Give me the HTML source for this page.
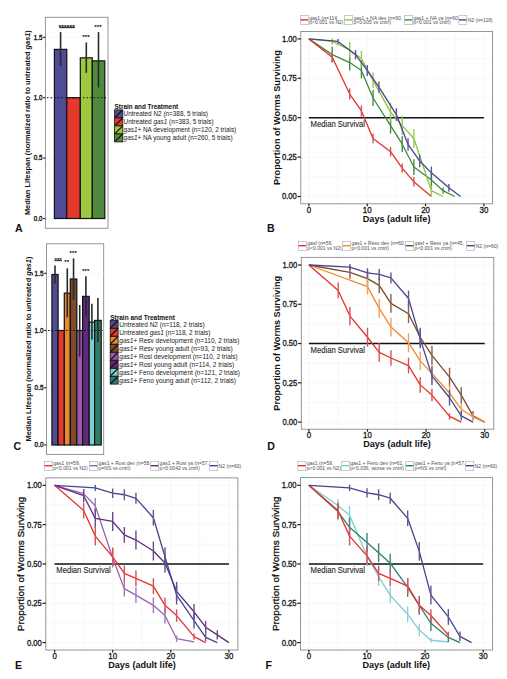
<!DOCTYPE html>
<html><head><meta charset="utf-8"><style>
html,body{margin:0;padding:0;background:#fff;}
body{width:507px;height:679px;overflow:hidden;}
svg{display:block;font-family:"Liberation Sans", sans-serif;}
</style></head><body>
<svg width="507" height="679" viewBox="0 0 507 679">
<rect width="507" height="679" fill="#fff"/>
<rect x="45.40" y="17.30" width="62.60" height="211.00" fill="#fff" stroke="#8a8a8a" stroke-width="0.9"/>
<line x1="45.40" y1="218.50" x2="108.00" y2="218.50" stroke="#f5f5f5" stroke-width="0.8"/>
<line x1="45.40" y1="158.10" x2="108.00" y2="158.10" stroke="#f5f5f5" stroke-width="0.8"/>
<line x1="45.40" y1="97.70" x2="108.00" y2="97.70" stroke="#f5f5f5" stroke-width="0.8"/>
<line x1="45.40" y1="37.30" x2="108.00" y2="37.30" stroke="#f5f5f5" stroke-width="0.8"/>
<rect x="54.40" y="49.38" width="12.40" height="169.12" fill="#4f4b95" stroke="#111" stroke-width="1.2"/>
<rect x="66.80" y="97.70" width="13.50" height="120.80" fill="#e33a2d" stroke="#111" stroke-width="1.2"/>
<rect x="80.30" y="57.84" width="12.00" height="160.66" fill="#9dc83f" stroke="#111" stroke-width="1.2"/>
<rect x="92.30" y="60.86" width="12.50" height="157.64" fill="#4f8a3e" stroke="#111" stroke-width="1.2"/>
<line x1="46.90" y1="97.70" x2="107.00" y2="97.70" stroke="#111" stroke-width="1.1" stroke-dasharray="1.6 2.0"/>
<line x1="60.60" y1="32.10" x2="60.60" y2="65.90" stroke="#2a2a2a" stroke-width="1.6"/>
<line x1="86.30" y1="42.50" x2="86.30" y2="72.80" stroke="#2a2a2a" stroke-width="1.6"/>
<line x1="98.50" y1="32.10" x2="98.50" y2="87.50" stroke="#2a2a2a" stroke-width="1.6"/>
<text x="67.00" y="29.30" font-size="5.5" text-anchor="middle" fill="#333" letter-spacing="0.6" stroke="#333" stroke-width="0.25">******</text>
<text x="86.20" y="38.50" font-size="5" text-anchor="middle" fill="#333" letter-spacing="0.6" stroke="#333" stroke-width="0.25">***</text>
<text x="98.30" y="28.50" font-size="5" text-anchor="middle" fill="#333" letter-spacing="0.6" stroke="#333" stroke-width="0.25">***</text>
<line x1="43.20" y1="218.50" x2="45.40" y2="218.50" stroke="#1a1a1a" stroke-width="1.2"/>
<text transform="translate(42.40 220.73) scale(1 1.1)" font-size="6.2" text-anchor="end" fill="#1a1a1a" stroke="#1a1a1a" stroke-width="0.35">0.0</text>
<line x1="43.20" y1="158.10" x2="45.40" y2="158.10" stroke="#1a1a1a" stroke-width="1.2"/>
<text transform="translate(42.40 160.33) scale(1 1.1)" font-size="6.2" text-anchor="end" fill="#1a1a1a" stroke="#1a1a1a" stroke-width="0.35">0.5</text>
<line x1="43.20" y1="97.70" x2="45.40" y2="97.70" stroke="#1a1a1a" stroke-width="1.2"/>
<text transform="translate(42.40 99.93) scale(1 1.1)" font-size="6.2" text-anchor="end" fill="#1a1a1a" stroke="#1a1a1a" stroke-width="0.35">1.0</text>
<line x1="43.20" y1="37.30" x2="45.40" y2="37.30" stroke="#1a1a1a" stroke-width="1.2"/>
<text transform="translate(42.40 39.53) scale(1 1.1)" font-size="6.2" text-anchor="end" fill="#1a1a1a" stroke="#1a1a1a" stroke-width="0.35">1.5</text>
<text x="30.10" y="122.60" font-size="7.36" font-weight="bold" text-anchor="middle" fill="#111" transform="rotate(-90 30.10 122.60)">Median Lifespan (normalized ratio to untreated <tspan font-style="italic">gas1</tspan>)</text>
<text x="114.60" y="108.90" font-size="6.4" text-anchor="start" fill="#111" font-weight="bold">Strain and Treatment</text>
<rect x="114.60" y="109.90" width="8.20" height="8.00" fill="#4f4b95" stroke="#111" stroke-width="0.8"/>
<line x1="115.20" y1="117.30" x2="122.20" y2="110.50" stroke="#111" stroke-width="1.1"/>
<text x="123.60" y="116.20" font-size="6.4" fill="#222">Untreated N2 (n=388, 5 trials)</text>
<rect x="114.60" y="117.90" width="8.20" height="8.00" fill="#e33a2d" stroke="#111" stroke-width="0.8"/>
<line x1="115.20" y1="125.30" x2="122.20" y2="118.50" stroke="#111" stroke-width="1.1"/>
<text x="123.60" y="124.20" font-size="6.4" fill="#222">Untreated <tspan font-style="italic">gas1</tspan>  (n=383, 5 trials)</text>
<rect x="114.60" y="125.90" width="8.20" height="8.00" fill="#9dc83f" stroke="#111" stroke-width="0.8"/>
<line x1="115.20" y1="133.30" x2="122.20" y2="126.50" stroke="#111" stroke-width="1.1"/>
<text x="123.60" y="132.20" font-size="6.4" fill="#222"><tspan font-style="italic">gas1</tspan>+ NA development (n=120, 2 trials)</text>
<rect x="114.60" y="133.90" width="8.20" height="8.00" fill="#4f8a3e" stroke="#111" stroke-width="0.8"/>
<line x1="115.20" y1="141.30" x2="122.20" y2="134.50" stroke="#111" stroke-width="1.1"/>
<text x="123.60" y="140.20" font-size="6.4" fill="#222"><tspan font-style="italic">gas1</tspan>+ NA young adult (n=260, 5 trials)</text>
<text x="14.90" y="232.40" font-size="10.6" text-anchor="start" fill="#111" font-weight="bold">A</text>
<line x1="59.20" y1="27.40" x2="74.80" y2="27.40" stroke="#333" stroke-width="1.5"/>
<rect x="46.50" y="243.80" width="57.20" height="210.60" fill="#fff" stroke="#8a8a8a" stroke-width="0.9"/>
<line x1="46.50" y1="445.00" x2="103.70" y2="445.00" stroke="#f5f5f5" stroke-width="0.8"/>
<line x1="46.50" y1="387.75" x2="103.70" y2="387.75" stroke="#f5f5f5" stroke-width="0.8"/>
<line x1="46.50" y1="330.50" x2="103.70" y2="330.50" stroke="#f5f5f5" stroke-width="0.8"/>
<line x1="46.50" y1="273.25" x2="103.70" y2="273.25" stroke="#f5f5f5" stroke-width="0.8"/>
<rect x="51.90" y="274.51" width="6.20" height="170.49" fill="#4f4b95" stroke="#111" stroke-width="1.2"/>
<rect x="58.10" y="330.50" width="6.20" height="114.50" fill="#e33a2d" stroke="#111" stroke-width="1.2"/>
<rect x="64.30" y="293.17" width="6.00" height="151.83" fill="#ea8a2e" stroke="#111" stroke-width="1.2"/>
<rect x="70.30" y="278.98" width="6.50" height="166.02" fill="#7d4a2a" stroke="#111" stroke-width="1.2"/>
<rect x="76.80" y="330.50" width="5.80" height="114.50" fill="#9a5aa8" stroke="#111" stroke-width="1.2"/>
<rect x="82.60" y="296.38" width="6.60" height="148.62" fill="#5e2a7e" stroke="#111" stroke-width="1.2"/>
<rect x="89.20" y="322.14" width="5.40" height="122.86" fill="#7ecdd0" stroke="#111" stroke-width="1.2"/>
<rect x="94.60" y="320.42" width="6.60" height="124.58" fill="#2d7d6b" stroke="#111" stroke-width="1.2"/>
<line x1="48.00" y1="330.50" x2="102.70" y2="330.50" stroke="#111" stroke-width="1.1" stroke-dasharray="1.6 2.0"/>
<line x1="55.00" y1="265.50" x2="55.00" y2="283.50" stroke="#2a2a2a" stroke-width="1.6"/>
<line x1="67.30" y1="268.30" x2="67.30" y2="317.30" stroke="#2a2a2a" stroke-width="1.6"/>
<line x1="73.55" y1="258.40" x2="73.55" y2="299.60" stroke="#2a2a2a" stroke-width="1.6"/>
<line x1="79.70" y1="305.00" x2="79.70" y2="356.60" stroke="#2a2a2a" stroke-width="1.6"/>
<line x1="85.90" y1="276.20" x2="85.90" y2="316.60" stroke="#2a2a2a" stroke-width="1.6"/>
<line x1="91.90" y1="303.80" x2="91.90" y2="339.40" stroke="#2a2a2a" stroke-width="1.6"/>
<line x1="97.90" y1="298.00" x2="97.90" y2="342.10" stroke="#2a2a2a" stroke-width="1.6"/>
<text x="58.40" y="261.80" font-size="4.8" text-anchor="middle" fill="#333" letter-spacing="0.6" stroke="#333" stroke-width="0.25">***</text>
<text x="67.00" y="264.00" font-size="4.8" text-anchor="middle" fill="#333" letter-spacing="0.6" stroke="#333" stroke-width="0.25">**</text>
<text x="73.50" y="254.50" font-size="4.8" text-anchor="middle" fill="#333" letter-spacing="0.6" stroke="#333" stroke-width="0.25">***</text>
<text x="86.00" y="273.00" font-size="4.8" text-anchor="middle" fill="#333" letter-spacing="0.6" stroke="#333" stroke-width="0.25">***</text>
<line x1="44.30" y1="445.00" x2="46.50" y2="445.00" stroke="#1a1a1a" stroke-width="1.2"/>
<text transform="translate(43.50 447.30) scale(1 1.1)" font-size="6.4" text-anchor="end" fill="#1a1a1a" stroke="#1a1a1a" stroke-width="0.35">0.0</text>
<line x1="44.30" y1="387.75" x2="46.50" y2="387.75" stroke="#1a1a1a" stroke-width="1.2"/>
<text transform="translate(43.50 390.05) scale(1 1.1)" font-size="6.4" text-anchor="end" fill="#1a1a1a" stroke="#1a1a1a" stroke-width="0.35">0.5</text>
<line x1="44.30" y1="330.50" x2="46.50" y2="330.50" stroke="#1a1a1a" stroke-width="1.2"/>
<text transform="translate(43.50 332.80) scale(1 1.1)" font-size="6.4" text-anchor="end" fill="#1a1a1a" stroke="#1a1a1a" stroke-width="0.35">1.0</text>
<line x1="44.30" y1="273.25" x2="46.50" y2="273.25" stroke="#1a1a1a" stroke-width="1.2"/>
<text transform="translate(43.50 275.55) scale(1 1.1)" font-size="6.4" text-anchor="end" fill="#1a1a1a" stroke="#1a1a1a" stroke-width="0.35">1.5</text>
<text x="30.60" y="349.00" font-size="7.37" font-weight="bold" text-anchor="middle" fill="#111" transform="rotate(-90 30.60 349.00)">Median Lifespan (normalized ratio to untreated <tspan font-style="italic">gas1</tspan>)</text>
<text x="110.20" y="319.50" font-size="6.5" text-anchor="start" fill="#111" font-weight="bold">Strain and Treatment</text>
<rect x="110.20" y="320.40" width="7.90" height="7.70" fill="#4f4b95" stroke="#111" stroke-width="0.8"/>
<line x1="110.80" y1="327.50" x2="117.50" y2="321.00" stroke="#111" stroke-width="1.1"/>
<text x="119.30" y="326.59" font-size="6.5" fill="#222">Untreated N2 (n=118, 2 trials)</text>
<rect x="110.20" y="328.40" width="7.90" height="7.70" fill="#e33a2d" stroke="#111" stroke-width="0.8"/>
<line x1="110.80" y1="335.50" x2="117.50" y2="329.00" stroke="#111" stroke-width="1.1"/>
<text x="119.30" y="334.59" font-size="6.5" fill="#222">Untreated <tspan font-style="italic">gas1</tspan> (n=118, 2 trials)</text>
<rect x="110.20" y="336.40" width="7.90" height="7.70" fill="#ea8a2e" stroke="#111" stroke-width="0.8"/>
<line x1="110.80" y1="343.50" x2="117.50" y2="337.00" stroke="#111" stroke-width="1.1"/>
<text x="119.30" y="342.59" font-size="6.5" fill="#222"><tspan font-style="italic">gas1</tspan>+ Resv development (n=110, 2 trials)</text>
<rect x="110.20" y="344.40" width="7.90" height="7.70" fill="#7d4a2a" stroke="#111" stroke-width="0.8"/>
<line x1="110.80" y1="351.50" x2="117.50" y2="345.00" stroke="#111" stroke-width="1.1"/>
<text x="119.30" y="350.59" font-size="6.5" fill="#222"><tspan font-style="italic">gas1</tspan>+ Resv young adult (n=93, 2 trials)</text>
<rect x="110.20" y="352.40" width="7.90" height="7.70" fill="#9a5aa8" stroke="#111" stroke-width="0.8"/>
<line x1="110.80" y1="359.50" x2="117.50" y2="353.00" stroke="#111" stroke-width="1.1"/>
<text x="119.30" y="358.59" font-size="6.5" fill="#222"><tspan font-style="italic">gas1</tspan>+ Rosi development (n=110, 2 trials)</text>
<rect x="110.20" y="360.40" width="7.90" height="7.70" fill="#5e2a7e" stroke="#111" stroke-width="0.8"/>
<line x1="110.80" y1="367.50" x2="117.50" y2="361.00" stroke="#111" stroke-width="1.1"/>
<text x="119.30" y="366.59" font-size="6.5" fill="#222"><tspan font-style="italic">gas1</tspan>+ Rosi young adult (n=114, 2 trials)</text>
<rect x="110.20" y="368.40" width="7.90" height="7.70" fill="#7ecdd0" stroke="#111" stroke-width="0.8"/>
<line x1="110.80" y1="375.50" x2="117.50" y2="369.00" stroke="#111" stroke-width="1.1"/>
<text x="119.30" y="374.59" font-size="6.5" fill="#222"><tspan font-style="italic">gas1</tspan>+ Feno development (n=121, 2 trials)</text>
<rect x="110.20" y="376.40" width="7.90" height="7.70" fill="#2d7d6b" stroke="#111" stroke-width="0.8"/>
<line x1="110.80" y1="383.50" x2="117.50" y2="377.00" stroke="#111" stroke-width="1.1"/>
<text x="119.30" y="382.59" font-size="6.5" fill="#222"><tspan font-style="italic">gas1</tspan>+ Feno young adult (n=112, 2 trials)</text>
<text x="13.60" y="449.50" font-size="10.6" text-anchor="start" fill="#111" font-weight="bold">C</text>
<line x1="54.40" y1="260.60" x2="62.00" y2="260.60" stroke="#333" stroke-width="1.1"/>
<rect x="300.80" y="31.50" width="191.70" height="172.30" fill="#fff" stroke="none" stroke-width="1"/>
<line x1="308.90" y1="31.50" x2="308.90" y2="203.80" stroke="#f5f5f5" stroke-width="0.8"/>
<line x1="338.06" y1="31.50" x2="338.06" y2="203.80" stroke="#f5f5f5" stroke-width="0.8"/>
<line x1="367.23" y1="31.50" x2="367.23" y2="203.80" stroke="#f5f5f5" stroke-width="0.8"/>
<line x1="396.39" y1="31.50" x2="396.39" y2="203.80" stroke="#f5f5f5" stroke-width="0.8"/>
<line x1="425.56" y1="31.50" x2="425.56" y2="203.80" stroke="#f5f5f5" stroke-width="0.8"/>
<line x1="454.73" y1="31.50" x2="454.73" y2="203.80" stroke="#f5f5f5" stroke-width="0.8"/>
<line x1="483.89" y1="31.50" x2="483.89" y2="203.80" stroke="#f5f5f5" stroke-width="0.8"/>
<line x1="300.80" y1="196.50" x2="492.50" y2="196.50" stroke="#f5f5f5" stroke-width="0.8"/>
<line x1="300.80" y1="176.80" x2="492.50" y2="176.80" stroke="#f5f5f5" stroke-width="0.8"/>
<line x1="300.80" y1="157.10" x2="492.50" y2="157.10" stroke="#f5f5f5" stroke-width="0.8"/>
<line x1="300.80" y1="137.40" x2="492.50" y2="137.40" stroke="#f5f5f5" stroke-width="0.8"/>
<line x1="300.80" y1="117.70" x2="492.50" y2="117.70" stroke="#f5f5f5" stroke-width="0.8"/>
<line x1="300.80" y1="98.00" x2="492.50" y2="98.00" stroke="#f5f5f5" stroke-width="0.8"/>
<line x1="300.80" y1="78.30" x2="492.50" y2="78.30" stroke="#f5f5f5" stroke-width="0.8"/>
<line x1="300.80" y1="58.60" x2="492.50" y2="58.60" stroke="#f5f5f5" stroke-width="0.8"/>
<line x1="300.80" y1="38.90" x2="492.50" y2="38.90" stroke="#f5f5f5" stroke-width="0.8"/>
<rect x="300.80" y="31.50" width="191.70" height="172.30" fill="none" stroke="#8a8a8a" stroke-width="0.9"/>
<line x1="308.90" y1="117.70" x2="483.89" y2="117.70" stroke="#111" stroke-width="1.4"/>
<text transform="translate(310.60 127.20) scale(1 1.12)" font-size="7.65" text-anchor="start" fill="#2a2a2a" stroke="#2a2a2a" stroke-width="0.12">Median Survival</text>
<polyline points="308.90,38.90 332.23,54.66 349.73,62.54 361.40,70.42 373.06,98.00 390.56,125.58 402.23,144.18 413.89,167.03 431.39,179.95 443.06,190.67 454.73,196.50" fill="none" stroke="#3e8a3a" stroke-width="1.3" stroke-linejoin="round"/>
<line x1="332.23" y1="46.78" x2="332.23" y2="62.54" stroke="#4a8a48" stroke-width="1.4"/>
<line x1="349.73" y1="54.66" x2="349.73" y2="70.42" stroke="#4a8a48" stroke-width="1.4"/>
<line x1="361.40" y1="62.54" x2="361.40" y2="78.30" stroke="#4a8a48" stroke-width="1.4"/>
<line x1="373.06" y1="90.12" x2="373.06" y2="105.88" stroke="#4a8a48" stroke-width="1.4"/>
<line x1="390.56" y1="117.70" x2="390.56" y2="133.46" stroke="#4a8a48" stroke-width="1.4"/>
<line x1="402.23" y1="136.30" x2="402.23" y2="152.06" stroke="#4a8a48" stroke-width="1.4"/>
<line x1="413.89" y1="159.15" x2="413.89" y2="174.91" stroke="#4a8a48" stroke-width="1.4"/>
<line x1="431.39" y1="172.07" x2="431.39" y2="187.83" stroke="#4a8a48" stroke-width="1.4"/>
<line x1="443.06" y1="187.52" x2="443.06" y2="193.82" stroke="#4a8a48" stroke-width="1.4"/>
<polyline points="308.90,38.90 332.23,41.42 349.73,49.93 361.40,58.60 373.06,80.35 390.56,112.18 402.23,125.58 413.89,138.50 431.39,190.67 443.06,196.50" fill="none" stroke="#8cc43c" stroke-width="1.3" stroke-linejoin="round"/>
<line x1="332.23" y1="38.27" x2="332.23" y2="44.57" stroke="#9ac85a" stroke-width="1.4"/>
<line x1="349.73" y1="42.05" x2="349.73" y2="57.81" stroke="#9ac85a" stroke-width="1.4"/>
<line x1="361.40" y1="50.72" x2="361.40" y2="66.48" stroke="#9ac85a" stroke-width="1.4"/>
<line x1="373.06" y1="72.47" x2="373.06" y2="88.23" stroke="#9ac85a" stroke-width="1.4"/>
<line x1="390.56" y1="102.73" x2="390.56" y2="121.64" stroke="#9ac85a" stroke-width="1.4"/>
<line x1="402.23" y1="116.12" x2="402.23" y2="135.04" stroke="#9ac85a" stroke-width="1.4"/>
<line x1="413.89" y1="129.05" x2="413.89" y2="147.96" stroke="#9ac85a" stroke-width="1.4"/>
<line x1="431.39" y1="185.94" x2="431.39" y2="195.40" stroke="#9ac85a" stroke-width="1.4"/>
<polyline points="308.90,38.90 332.23,57.18 349.73,94.06 361.40,110.92 373.06,138.50 390.56,151.74 402.23,168.13 413.89,181.84 431.39,196.50" fill="none" stroke="#e3332b" stroke-width="1.3" stroke-linejoin="round"/>
<line x1="332.23" y1="52.45" x2="332.23" y2="61.91" stroke="#d8505a" stroke-width="1.4"/>
<line x1="349.73" y1="88.54" x2="349.73" y2="99.58" stroke="#d8505a" stroke-width="1.4"/>
<line x1="361.40" y1="105.41" x2="361.40" y2="116.44" stroke="#d8505a" stroke-width="1.4"/>
<line x1="373.06" y1="133.78" x2="373.06" y2="143.23" stroke="#d8505a" stroke-width="1.4"/>
<line x1="390.56" y1="147.01" x2="390.56" y2="156.47" stroke="#d8505a" stroke-width="1.4"/>
<line x1="402.23" y1="163.40" x2="402.23" y2="172.86" stroke="#d8505a" stroke-width="1.4"/>
<line x1="413.89" y1="177.12" x2="413.89" y2="186.57" stroke="#d8505a" stroke-width="1.4"/>
<polyline points="308.90,38.90 338.06,41.42 355.56,54.66 367.23,70.42 378.90,87.13 396.39,114.55 408.06,144.49 419.73,161.04 431.39,172.86 448.89,187.83 460.56,196.50" fill="none" stroke="#45458f" stroke-width="1.3" stroke-linejoin="round"/>
<line x1="338.06" y1="39.06" x2="338.06" y2="43.79" stroke="#5a5a95" stroke-width="1.4"/>
<line x1="355.56" y1="49.93" x2="355.56" y2="59.39" stroke="#5a5a95" stroke-width="1.4"/>
<line x1="367.23" y1="64.90" x2="367.23" y2="75.94" stroke="#5a5a95" stroke-width="1.4"/>
<line x1="378.90" y1="81.61" x2="378.90" y2="92.64" stroke="#5a5a95" stroke-width="1.4"/>
<line x1="396.39" y1="108.24" x2="396.39" y2="120.85" stroke="#5a5a95" stroke-width="1.4"/>
<line x1="408.06" y1="138.19" x2="408.06" y2="150.80" stroke="#5a5a95" stroke-width="1.4"/>
<line x1="419.73" y1="154.74" x2="419.73" y2="167.34" stroke="#5a5a95" stroke-width="1.4"/>
<line x1="431.39" y1="166.56" x2="431.39" y2="179.16" stroke="#5a5a95" stroke-width="1.4"/>
<line x1="448.89" y1="183.89" x2="448.89" y2="191.77" stroke="#5a5a95" stroke-width="1.4"/>
<line x1="297.60" y1="196.50" x2="300.80" y2="196.50" stroke="#1a1a1a" stroke-width="1.2"/>
<text transform="translate(296.80 199.40) scale(1 1.2)" font-size="7.65" text-anchor="end" fill="#1a1a1a" stroke="#1a1a1a" stroke-width="0.3">0.00</text>
<line x1="297.60" y1="157.10" x2="300.80" y2="157.10" stroke="#1a1a1a" stroke-width="1.2"/>
<text transform="translate(296.80 160.00) scale(1 1.2)" font-size="7.65" text-anchor="end" fill="#1a1a1a" stroke="#1a1a1a" stroke-width="0.3">0.25</text>
<line x1="297.60" y1="117.70" x2="300.80" y2="117.70" stroke="#1a1a1a" stroke-width="1.2"/>
<text transform="translate(296.80 120.60) scale(1 1.2)" font-size="7.65" text-anchor="end" fill="#1a1a1a" stroke="#1a1a1a" stroke-width="0.3">0.50</text>
<line x1="297.60" y1="78.30" x2="300.80" y2="78.30" stroke="#1a1a1a" stroke-width="1.2"/>
<text transform="translate(296.80 81.20) scale(1 1.2)" font-size="7.65" text-anchor="end" fill="#1a1a1a" stroke="#1a1a1a" stroke-width="0.3">0.75</text>
<line x1="297.60" y1="38.90" x2="300.80" y2="38.90" stroke="#1a1a1a" stroke-width="1.2"/>
<text transform="translate(296.80 41.80) scale(1 1.2)" font-size="7.65" text-anchor="end" fill="#1a1a1a" stroke="#1a1a1a" stroke-width="0.3">1.00</text>
<line x1="308.90" y1="203.80" x2="308.90" y2="206.30" stroke="#1a1a1a" stroke-width="1.2"/>
<text transform="translate(308.90 213.00) scale(1 1.15)" font-size="7.9" text-anchor="middle" fill="#1a1a1a" stroke="#1a1a1a" stroke-width="0.3">0</text>
<line x1="367.23" y1="203.80" x2="367.23" y2="206.30" stroke="#1a1a1a" stroke-width="1.2"/>
<text transform="translate(367.23 213.00) scale(1 1.15)" font-size="7.9" text-anchor="middle" fill="#1a1a1a" stroke="#1a1a1a" stroke-width="0.3">10</text>
<line x1="425.56" y1="203.80" x2="425.56" y2="206.30" stroke="#1a1a1a" stroke-width="1.2"/>
<text transform="translate(425.56 213.00) scale(1 1.15)" font-size="7.9" text-anchor="middle" fill="#1a1a1a" stroke="#1a1a1a" stroke-width="0.3">20</text>
<line x1="483.89" y1="203.80" x2="483.89" y2="206.30" stroke="#1a1a1a" stroke-width="1.2"/>
<text transform="translate(483.89 213.00) scale(1 1.15)" font-size="7.9" text-anchor="middle" fill="#1a1a1a" stroke="#1a1a1a" stroke-width="0.3">30</text>
<text transform="translate(396.59 221.80) scale(1 1.07)" font-size="9.1" text-anchor="middle" fill="#111" font-weight="bold">Days (adult life)</text>
<text x="280.30" y="117.65" font-size="9.1" font-weight="bold" text-anchor="middle" fill="#111" transform="rotate(-90 280.30 117.65)">Proportion of Worms Surviving</text>
<rect x="300.30" y="15.50" width="8.00" height="9.00" fill="#fff" stroke="#a8a8a8" stroke-width="0.6"/>
<line x1="300.50" y1="19.90" x2="308.10" y2="19.90" stroke="#e3332b" stroke-width="1.4"/>
<text x="309.20" y="19.50" font-size="5.05" text-anchor="start" fill="#505050">gas1 (n=114,</text>
<text x="309.20" y="24.40" font-size="5.05" text-anchor="start" fill="#505050">p&lt;0.001 vs N2)</text>
<rect x="344.50" y="15.50" width="8.00" height="9.00" fill="#fff" stroke="#a8a8a8" stroke-width="0.6"/>
<line x1="344.70" y1="19.90" x2="352.30" y2="19.90" stroke="#8cc43c" stroke-width="1.4"/>
<text x="353.40" y="19.50" font-size="5.05" text-anchor="start" fill="#505050">gas1 + NA dev (n=60,</text>
<text x="353.40" y="24.40" font-size="5.05" text-anchor="start" fill="#505050">p&lt;0.005 vs cntrl)</text>
<rect x="404.30" y="15.50" width="8.00" height="9.00" fill="#fff" stroke="#a8a8a8" stroke-width="0.6"/>
<line x1="404.50" y1="19.90" x2="412.10" y2="19.90" stroke="#3e8a3a" stroke-width="1.4"/>
<text x="413.20" y="19.50" font-size="5.05" text-anchor="start" fill="#505050">gas1 + NA ya (n=60,</text>
<text x="413.20" y="24.40" font-size="5.05" text-anchor="start" fill="#505050">p&lt;0.001 vs cntrl)</text>
<rect x="458.80" y="15.50" width="8.00" height="9.00" fill="#fff" stroke="#a8a8a8" stroke-width="0.6"/>
<line x1="459.00" y1="19.90" x2="466.60" y2="19.90" stroke="#45458f" stroke-width="1.4"/>
<text x="467.70" y="21.80" font-size="5.05" text-anchor="start" fill="#505050">N2 (n=118)</text>
<text x="266.90" y="232.30" font-size="10.6" text-anchor="start" fill="#111" font-weight="bold">B</text>
<rect x="301.30" y="257.40" width="192.50" height="171.80" fill="#fff" stroke="none" stroke-width="1"/>
<line x1="308.90" y1="257.40" x2="308.90" y2="429.20" stroke="#f5f5f5" stroke-width="0.8"/>
<line x1="338.20" y1="257.40" x2="338.20" y2="429.20" stroke="#f5f5f5" stroke-width="0.8"/>
<line x1="367.50" y1="257.40" x2="367.50" y2="429.20" stroke="#f5f5f5" stroke-width="0.8"/>
<line x1="396.80" y1="257.40" x2="396.80" y2="429.20" stroke="#f5f5f5" stroke-width="0.8"/>
<line x1="426.10" y1="257.40" x2="426.10" y2="429.20" stroke="#f5f5f5" stroke-width="0.8"/>
<line x1="455.40" y1="257.40" x2="455.40" y2="429.20" stroke="#f5f5f5" stroke-width="0.8"/>
<line x1="484.70" y1="257.40" x2="484.70" y2="429.20" stroke="#f5f5f5" stroke-width="0.8"/>
<line x1="301.30" y1="422.10" x2="493.80" y2="422.10" stroke="#f5f5f5" stroke-width="0.8"/>
<line x1="301.30" y1="402.46" x2="493.80" y2="402.46" stroke="#f5f5f5" stroke-width="0.8"/>
<line x1="301.30" y1="382.83" x2="493.80" y2="382.83" stroke="#f5f5f5" stroke-width="0.8"/>
<line x1="301.30" y1="363.19" x2="493.80" y2="363.19" stroke="#f5f5f5" stroke-width="0.8"/>
<line x1="301.30" y1="343.55" x2="493.80" y2="343.55" stroke="#f5f5f5" stroke-width="0.8"/>
<line x1="301.30" y1="323.91" x2="493.80" y2="323.91" stroke="#f5f5f5" stroke-width="0.8"/>
<line x1="301.30" y1="304.28" x2="493.80" y2="304.28" stroke="#f5f5f5" stroke-width="0.8"/>
<line x1="301.30" y1="284.64" x2="493.80" y2="284.64" stroke="#f5f5f5" stroke-width="0.8"/>
<line x1="301.30" y1="265.00" x2="493.80" y2="265.00" stroke="#f5f5f5" stroke-width="0.8"/>
<rect x="301.30" y="257.40" width="192.50" height="171.80" fill="none" stroke="#8a8a8a" stroke-width="0.9"/>
<line x1="308.90" y1="343.55" x2="484.70" y2="343.55" stroke="#111" stroke-width="1.4"/>
<text transform="translate(310.60 353.05) scale(1 1.12)" font-size="7.65" text-anchor="start" fill="#2a2a2a" stroke="#2a2a2a" stroke-width="0.12">Median Survival</text>
<polyline points="308.90,265.00 349.92,272.38 367.50,278.67 379.22,285.42 390.94,303.33 408.52,313.70 420.24,337.27 431.96,355.33 449.54,377.17 461.26,395.08 472.98,415.82 484.70,422.10" fill="none" stroke="#7a4a2c" stroke-width="1.3" stroke-linejoin="round"/>
<line x1="349.92" y1="266.10" x2="349.92" y2="278.67" stroke="#86604a" stroke-width="1.4"/>
<line x1="367.50" y1="270.81" x2="367.50" y2="286.52" stroke="#86604a" stroke-width="1.4"/>
<line x1="379.22" y1="277.57" x2="379.22" y2="293.28" stroke="#86604a" stroke-width="1.4"/>
<line x1="390.94" y1="293.91" x2="390.94" y2="312.76" stroke="#86604a" stroke-width="1.4"/>
<line x1="408.52" y1="304.28" x2="408.52" y2="323.13" stroke="#86604a" stroke-width="1.4"/>
<line x1="420.24" y1="327.84" x2="420.24" y2="346.69" stroke="#86604a" stroke-width="1.4"/>
<line x1="431.96" y1="345.91" x2="431.96" y2="364.76" stroke="#86604a" stroke-width="1.4"/>
<line x1="449.54" y1="367.74" x2="449.54" y2="386.60" stroke="#86604a" stroke-width="1.4"/>
<line x1="461.26" y1="387.22" x2="461.26" y2="402.93" stroke="#86604a" stroke-width="1.4"/>
<line x1="472.98" y1="411.10" x2="472.98" y2="420.53" stroke="#86604a" stroke-width="1.4"/>
<polyline points="308.90,265.00 367.50,286.68 379.22,308.36 390.94,327.05 408.52,342.76 420.24,360.83 431.96,373.40 449.54,393.04 461.26,409.22 472.98,416.92 484.70,422.10" fill="none" stroke="#ee8a2c" stroke-width="1.3" stroke-linejoin="round"/>
<line x1="367.50" y1="278.82" x2="367.50" y2="294.53" stroke="#f0a060" stroke-width="1.4"/>
<line x1="379.22" y1="298.93" x2="379.22" y2="317.79" stroke="#f0a060" stroke-width="1.4"/>
<line x1="390.94" y1="317.63" x2="390.94" y2="336.48" stroke="#f0a060" stroke-width="1.4"/>
<line x1="408.52" y1="333.34" x2="408.52" y2="352.19" stroke="#f0a060" stroke-width="1.4"/>
<line x1="420.24" y1="351.41" x2="420.24" y2="370.26" stroke="#f0a060" stroke-width="1.4"/>
<line x1="431.96" y1="363.97" x2="431.96" y2="382.83" stroke="#f0a060" stroke-width="1.4"/>
<line x1="449.54" y1="385.18" x2="449.54" y2="400.89" stroke="#f0a060" stroke-width="1.4"/>
<line x1="461.26" y1="402.93" x2="461.26" y2="415.50" stroke="#f0a060" stroke-width="1.4"/>
<line x1="472.98" y1="413.77" x2="472.98" y2="420.06" stroke="#f0a060" stroke-width="1.4"/>
<polyline points="308.90,265.00 338.20,290.45 349.92,316.06 367.50,337.27 379.22,352.35 390.94,358.00 408.52,365.54 420.24,384.87 431.96,395.08 449.54,416.44 461.26,422.10" fill="none" stroke="#e3332b" stroke-width="1.3" stroke-linejoin="round"/>
<line x1="338.20" y1="282.60" x2="338.20" y2="298.31" stroke="#d8505a" stroke-width="1.4"/>
<line x1="349.92" y1="306.63" x2="349.92" y2="325.48" stroke="#d8505a" stroke-width="1.4"/>
<line x1="367.50" y1="327.84" x2="367.50" y2="346.69" stroke="#d8505a" stroke-width="1.4"/>
<line x1="379.22" y1="342.92" x2="379.22" y2="361.77" stroke="#d8505a" stroke-width="1.4"/>
<line x1="390.94" y1="350.15" x2="390.94" y2="365.86" stroke="#d8505a" stroke-width="1.4"/>
<line x1="408.52" y1="357.69" x2="408.52" y2="373.40" stroke="#d8505a" stroke-width="1.4"/>
<line x1="420.24" y1="377.01" x2="420.24" y2="392.72" stroke="#d8505a" stroke-width="1.4"/>
<line x1="431.96" y1="388.79" x2="431.96" y2="401.36" stroke="#d8505a" stroke-width="1.4"/>
<line x1="449.54" y1="413.30" x2="449.54" y2="419.59" stroke="#d8505a" stroke-width="1.4"/>
<polyline points="308.90,265.00 349.92,267.20 367.50,272.86 379.22,274.43 390.94,277.88 408.52,298.46 420.24,338.84 431.96,375.91 449.54,397.75 461.26,415.82 472.98,422.10" fill="none" stroke="#45458f" stroke-width="1.3" stroke-linejoin="round"/>
<line x1="349.92" y1="264.06" x2="349.92" y2="270.34" stroke="#5a5a95" stroke-width="1.4"/>
<line x1="367.50" y1="268.14" x2="367.50" y2="277.57" stroke="#5a5a95" stroke-width="1.4"/>
<line x1="379.22" y1="268.93" x2="379.22" y2="279.92" stroke="#5a5a95" stroke-width="1.4"/>
<line x1="390.94" y1="272.38" x2="390.94" y2="283.38" stroke="#5a5a95" stroke-width="1.4"/>
<line x1="408.52" y1="290.61" x2="408.52" y2="306.32" stroke="#5a5a95" stroke-width="1.4"/>
<line x1="420.24" y1="329.41" x2="420.24" y2="348.26" stroke="#5a5a95" stroke-width="1.4"/>
<line x1="431.96" y1="366.49" x2="431.96" y2="385.34" stroke="#5a5a95" stroke-width="1.4"/>
<line x1="449.54" y1="389.89" x2="449.54" y2="405.60" stroke="#5a5a95" stroke-width="1.4"/>
<line x1="461.26" y1="411.10" x2="461.26" y2="420.53" stroke="#5a5a95" stroke-width="1.4"/>
<line x1="298.10" y1="422.10" x2="301.30" y2="422.10" stroke="#1a1a1a" stroke-width="1.2"/>
<text transform="translate(297.30 425.00) scale(1 1.2)" font-size="7.65" text-anchor="end" fill="#1a1a1a" stroke="#1a1a1a" stroke-width="0.3">0.00</text>
<line x1="298.10" y1="382.83" x2="301.30" y2="382.83" stroke="#1a1a1a" stroke-width="1.2"/>
<text transform="translate(297.30 385.73) scale(1 1.2)" font-size="7.65" text-anchor="end" fill="#1a1a1a" stroke="#1a1a1a" stroke-width="0.3">0.25</text>
<line x1="298.10" y1="343.55" x2="301.30" y2="343.55" stroke="#1a1a1a" stroke-width="1.2"/>
<text transform="translate(297.30 346.45) scale(1 1.2)" font-size="7.65" text-anchor="end" fill="#1a1a1a" stroke="#1a1a1a" stroke-width="0.3">0.50</text>
<line x1="298.10" y1="304.28" x2="301.30" y2="304.28" stroke="#1a1a1a" stroke-width="1.2"/>
<text transform="translate(297.30 307.18) scale(1 1.2)" font-size="7.65" text-anchor="end" fill="#1a1a1a" stroke="#1a1a1a" stroke-width="0.3">0.75</text>
<line x1="298.10" y1="265.00" x2="301.30" y2="265.00" stroke="#1a1a1a" stroke-width="1.2"/>
<text transform="translate(297.30 267.90) scale(1 1.2)" font-size="7.65" text-anchor="end" fill="#1a1a1a" stroke="#1a1a1a" stroke-width="0.3">1.00</text>
<line x1="308.90" y1="429.20" x2="308.90" y2="431.70" stroke="#1a1a1a" stroke-width="1.2"/>
<text transform="translate(308.90 438.40) scale(1 1.15)" font-size="7.9" text-anchor="middle" fill="#1a1a1a" stroke="#1a1a1a" stroke-width="0.3">0</text>
<line x1="367.50" y1="429.20" x2="367.50" y2="431.70" stroke="#1a1a1a" stroke-width="1.2"/>
<text transform="translate(367.50 438.40) scale(1 1.15)" font-size="7.9" text-anchor="middle" fill="#1a1a1a" stroke="#1a1a1a" stroke-width="0.3">10</text>
<line x1="426.10" y1="429.20" x2="426.10" y2="431.70" stroke="#1a1a1a" stroke-width="1.2"/>
<text transform="translate(426.10 438.40) scale(1 1.15)" font-size="7.9" text-anchor="middle" fill="#1a1a1a" stroke="#1a1a1a" stroke-width="0.3">20</text>
<line x1="484.70" y1="429.20" x2="484.70" y2="431.70" stroke="#1a1a1a" stroke-width="1.2"/>
<text transform="translate(484.70 438.40) scale(1 1.15)" font-size="7.9" text-anchor="middle" fill="#1a1a1a" stroke="#1a1a1a" stroke-width="0.3">30</text>
<text transform="translate(397.00 447.20) scale(1 1.07)" font-size="9.1" text-anchor="middle" fill="#111" font-weight="bold">Days (adult life)</text>
<text x="280.40" y="343.30" font-size="9.1" font-weight="bold" text-anchor="middle" fill="#111" transform="rotate(-90 280.40 343.30)">Proportion of Worms Surviving</text>
<rect x="298.40" y="241.30" width="8.00" height="9.00" fill="#fff" stroke="#a8a8a8" stroke-width="0.6"/>
<line x1="298.60" y1="245.70" x2="306.20" y2="245.70" stroke="#e3332b" stroke-width="1.4"/>
<text x="307.30" y="245.30" font-size="5.05" text-anchor="start" fill="#505050">gasf (n=59,</text>
<text x="307.30" y="250.20" font-size="5.05" text-anchor="start" fill="#505050">p&lt;0.001 vs N2)</text>
<rect x="342.50" y="241.30" width="8.00" height="9.00" fill="#fff" stroke="#a8a8a8" stroke-width="0.6"/>
<line x1="342.70" y1="245.70" x2="350.30" y2="245.70" stroke="#ee8a2c" stroke-width="1.4"/>
<text x="351.40" y="245.30" font-size="5.05" text-anchor="start" fill="#505050">gas1 + Resv dev (n=60,</text>
<text x="351.40" y="250.20" font-size="5.05" text-anchor="start" fill="#505050">p&lt;0.001 vs cntrl)</text>
<rect x="405.70" y="241.30" width="8.00" height="9.00" fill="#fff" stroke="#a8a8a8" stroke-width="0.6"/>
<line x1="405.90" y1="245.70" x2="413.50" y2="245.70" stroke="#7a4a2c" stroke-width="1.4"/>
<text x="414.60" y="245.30" font-size="5.05" text-anchor="start" fill="#505050">gasf + Resv ya (n=45,</text>
<text x="414.60" y="250.20" font-size="5.05" text-anchor="start" fill="#505050">p&lt;0.001 vs cntrl)</text>
<rect x="466.70" y="241.30" width="8.00" height="9.00" fill="#fff" stroke="#a8a8a8" stroke-width="0.6"/>
<line x1="466.90" y1="245.70" x2="474.50" y2="245.70" stroke="#45458f" stroke-width="1.4"/>
<text x="475.60" y="247.60" font-size="5.05" text-anchor="start" fill="#505050">N2 (n=60)</text>
<text x="267.20" y="450.00" font-size="10.6" text-anchor="start" fill="#111" font-weight="bold">D</text>
<rect x="45.80" y="477.90" width="192.10" height="172.10" fill="#fff" stroke="none" stroke-width="1"/>
<line x1="54.60" y1="477.90" x2="54.60" y2="650.00" stroke="#f5f5f5" stroke-width="0.8"/>
<line x1="83.65" y1="477.90" x2="83.65" y2="650.00" stroke="#f5f5f5" stroke-width="0.8"/>
<line x1="112.70" y1="477.90" x2="112.70" y2="650.00" stroke="#f5f5f5" stroke-width="0.8"/>
<line x1="141.75" y1="477.90" x2="141.75" y2="650.00" stroke="#f5f5f5" stroke-width="0.8"/>
<line x1="170.80" y1="477.90" x2="170.80" y2="650.00" stroke="#f5f5f5" stroke-width="0.8"/>
<line x1="199.85" y1="477.90" x2="199.85" y2="650.00" stroke="#f5f5f5" stroke-width="0.8"/>
<line x1="228.90" y1="477.90" x2="228.90" y2="650.00" stroke="#f5f5f5" stroke-width="0.8"/>
<line x1="45.80" y1="642.60" x2="237.90" y2="642.60" stroke="#f5f5f5" stroke-width="0.8"/>
<line x1="45.80" y1="622.94" x2="237.90" y2="622.94" stroke="#f5f5f5" stroke-width="0.8"/>
<line x1="45.80" y1="603.27" x2="237.90" y2="603.27" stroke="#f5f5f5" stroke-width="0.8"/>
<line x1="45.80" y1="583.61" x2="237.90" y2="583.61" stroke="#f5f5f5" stroke-width="0.8"/>
<line x1="45.80" y1="563.95" x2="237.90" y2="563.95" stroke="#f5f5f5" stroke-width="0.8"/>
<line x1="45.80" y1="544.29" x2="237.90" y2="544.29" stroke="#f5f5f5" stroke-width="0.8"/>
<line x1="45.80" y1="524.62" x2="237.90" y2="524.62" stroke="#f5f5f5" stroke-width="0.8"/>
<line x1="45.80" y1="504.96" x2="237.90" y2="504.96" stroke="#f5f5f5" stroke-width="0.8"/>
<line x1="45.80" y1="485.30" x2="237.90" y2="485.30" stroke="#f5f5f5" stroke-width="0.8"/>
<rect x="45.80" y="477.90" width="192.10" height="172.10" fill="none" stroke="#8a8a8a" stroke-width="0.9"/>
<line x1="54.60" y1="563.95" x2="228.90" y2="563.95" stroke="#111" stroke-width="1.4"/>
<text transform="translate(56.30 573.45) scale(1 1.12)" font-size="7.65" text-anchor="start" fill="#2a2a2a" stroke="#2a2a2a" stroke-width="0.12">Median Survival</text>
<polyline points="54.60,485.30 83.65,493.64 95.27,505.75 112.70,557.97 124.32,588.65 135.94,595.10 153.37,605.32 164.99,615.54 176.61,638.67 194.04,641.97" fill="none" stroke="#9a62b0" stroke-width="1.3" stroke-linejoin="round"/>
<line x1="83.65" y1="488.92" x2="83.65" y2="498.36" stroke="#a27ab8" stroke-width="1.4"/>
<line x1="95.27" y1="497.88" x2="95.27" y2="513.61" stroke="#a27ab8" stroke-width="1.4"/>
<line x1="112.70" y1="548.53" x2="112.70" y2="567.41" stroke="#a27ab8" stroke-width="1.4"/>
<line x1="124.32" y1="580.78" x2="124.32" y2="596.51" stroke="#a27ab8" stroke-width="1.4"/>
<line x1="135.94" y1="587.23" x2="135.94" y2="602.96" stroke="#a27ab8" stroke-width="1.4"/>
<line x1="153.37" y1="597.45" x2="153.37" y2="613.18" stroke="#a27ab8" stroke-width="1.4"/>
<line x1="164.99" y1="607.68" x2="164.99" y2="623.41" stroke="#a27ab8" stroke-width="1.4"/>
<line x1="176.61" y1="635.52" x2="176.61" y2="641.81" stroke="#a27ab8" stroke-width="1.4"/>
<polyline points="54.60,485.30 83.65,495.68 95.27,518.33 112.70,521.48 124.32,534.85 135.94,540.04 153.37,551.05 164.99,563.01 176.61,591.32 194.04,611.77 205.66,627.18 217.28,634.89 228.90,642.60" fill="none" stroke="#5c2c80" stroke-width="1.3" stroke-linejoin="round"/>
<line x1="83.65" y1="489.39" x2="83.65" y2="501.97" stroke="#6a4a8a" stroke-width="1.4"/>
<line x1="95.27" y1="508.89" x2="95.27" y2="527.77" stroke="#6a4a8a" stroke-width="1.4"/>
<line x1="112.70" y1="512.04" x2="112.70" y2="530.92" stroke="#6a4a8a" stroke-width="1.4"/>
<line x1="124.32" y1="526.98" x2="124.32" y2="542.71" stroke="#6a4a8a" stroke-width="1.4"/>
<line x1="135.94" y1="530.60" x2="135.94" y2="549.48" stroke="#6a4a8a" stroke-width="1.4"/>
<line x1="153.37" y1="541.61" x2="153.37" y2="560.49" stroke="#6a4a8a" stroke-width="1.4"/>
<line x1="164.99" y1="553.57" x2="164.99" y2="572.44" stroke="#6a4a8a" stroke-width="1.4"/>
<line x1="176.61" y1="581.88" x2="176.61" y2="600.76" stroke="#6a4a8a" stroke-width="1.4"/>
<line x1="194.04" y1="603.90" x2="194.04" y2="619.63" stroke="#6a4a8a" stroke-width="1.4"/>
<line x1="205.66" y1="620.89" x2="205.66" y2="633.48" stroke="#6a4a8a" stroke-width="1.4"/>
<line x1="217.28" y1="630.17" x2="217.28" y2="639.61" stroke="#6a4a8a" stroke-width="1.4"/>
<polyline points="54.60,485.30 83.65,510.47 95.27,536.11 112.70,556.87 124.32,573.39 135.94,578.42 153.37,586.13 164.99,605.32 176.61,615.54 194.04,636.62 205.66,642.60" fill="none" stroke="#e3332b" stroke-width="1.3" stroke-linejoin="round"/>
<line x1="83.65" y1="502.60" x2="83.65" y2="518.33" stroke="#d8505a" stroke-width="1.4"/>
<line x1="95.27" y1="526.67" x2="95.27" y2="545.55" stroke="#d8505a" stroke-width="1.4"/>
<line x1="112.70" y1="547.43" x2="112.70" y2="566.31" stroke="#d8505a" stroke-width="1.4"/>
<line x1="124.32" y1="565.52" x2="124.32" y2="581.25" stroke="#d8505a" stroke-width="1.4"/>
<line x1="135.94" y1="570.56" x2="135.94" y2="586.29" stroke="#d8505a" stroke-width="1.4"/>
<line x1="153.37" y1="578.26" x2="153.37" y2="593.99" stroke="#d8505a" stroke-width="1.4"/>
<line x1="164.99" y1="597.45" x2="164.99" y2="613.18" stroke="#d8505a" stroke-width="1.4"/>
<line x1="176.61" y1="609.25" x2="176.61" y2="621.84" stroke="#d8505a" stroke-width="1.4"/>
<line x1="194.04" y1="633.48" x2="194.04" y2="639.77" stroke="#d8505a" stroke-width="1.4"/>
<polyline points="54.60,485.30 95.27,487.82 112.70,493.17 124.32,494.74 135.94,498.36 153.37,517.70 164.99,556.71 176.61,595.10 194.04,620.74 205.66,637.41 217.28,642.60" fill="none" stroke="#45458f" stroke-width="1.3" stroke-linejoin="round"/>
<line x1="95.27" y1="484.67" x2="95.27" y2="490.96" stroke="#5a5a95" stroke-width="1.4"/>
<line x1="112.70" y1="488.45" x2="112.70" y2="497.88" stroke="#5a5a95" stroke-width="1.4"/>
<line x1="124.32" y1="489.23" x2="124.32" y2="500.24" stroke="#5a5a95" stroke-width="1.4"/>
<line x1="135.94" y1="492.85" x2="135.94" y2="503.86" stroke="#5a5a95" stroke-width="1.4"/>
<line x1="153.37" y1="509.84" x2="153.37" y2="525.57" stroke="#5a5a95" stroke-width="1.4"/>
<line x1="164.99" y1="547.28" x2="164.99" y2="566.15" stroke="#5a5a95" stroke-width="1.4"/>
<line x1="176.61" y1="585.66" x2="176.61" y2="604.53" stroke="#5a5a95" stroke-width="1.4"/>
<line x1="194.04" y1="612.87" x2="194.04" y2="628.60" stroke="#5a5a95" stroke-width="1.4"/>
<line x1="205.66" y1="633.48" x2="205.66" y2="641.34" stroke="#5a5a95" stroke-width="1.4"/>
<line x1="42.60" y1="642.60" x2="45.80" y2="642.60" stroke="#1a1a1a" stroke-width="1.2"/>
<text transform="translate(41.80 645.50) scale(1 1.2)" font-size="7.65" text-anchor="end" fill="#1a1a1a" stroke="#1a1a1a" stroke-width="0.3">0.00</text>
<line x1="42.60" y1="603.27" x2="45.80" y2="603.27" stroke="#1a1a1a" stroke-width="1.2"/>
<text transform="translate(41.80 606.17) scale(1 1.2)" font-size="7.65" text-anchor="end" fill="#1a1a1a" stroke="#1a1a1a" stroke-width="0.3">0.25</text>
<line x1="42.60" y1="563.95" x2="45.80" y2="563.95" stroke="#1a1a1a" stroke-width="1.2"/>
<text transform="translate(41.80 566.85) scale(1 1.2)" font-size="7.65" text-anchor="end" fill="#1a1a1a" stroke="#1a1a1a" stroke-width="0.3">0.50</text>
<line x1="42.60" y1="524.62" x2="45.80" y2="524.62" stroke="#1a1a1a" stroke-width="1.2"/>
<text transform="translate(41.80 527.52) scale(1 1.2)" font-size="7.65" text-anchor="end" fill="#1a1a1a" stroke="#1a1a1a" stroke-width="0.3">0.75</text>
<line x1="42.60" y1="485.30" x2="45.80" y2="485.30" stroke="#1a1a1a" stroke-width="1.2"/>
<text transform="translate(41.80 488.20) scale(1 1.2)" font-size="7.65" text-anchor="end" fill="#1a1a1a" stroke="#1a1a1a" stroke-width="0.3">1.00</text>
<line x1="54.60" y1="650.00" x2="54.60" y2="652.50" stroke="#1a1a1a" stroke-width="1.2"/>
<text transform="translate(54.60 659.20) scale(1 1.15)" font-size="7.9" text-anchor="middle" fill="#1a1a1a" stroke="#1a1a1a" stroke-width="0.3">0</text>
<line x1="112.70" y1="650.00" x2="112.70" y2="652.50" stroke="#1a1a1a" stroke-width="1.2"/>
<text transform="translate(112.70 659.20) scale(1 1.15)" font-size="7.9" text-anchor="middle" fill="#1a1a1a" stroke="#1a1a1a" stroke-width="0.3">10</text>
<line x1="170.80" y1="650.00" x2="170.80" y2="652.50" stroke="#1a1a1a" stroke-width="1.2"/>
<text transform="translate(170.80 659.20) scale(1 1.15)" font-size="7.9" text-anchor="middle" fill="#1a1a1a" stroke="#1a1a1a" stroke-width="0.3">20</text>
<line x1="228.90" y1="650.00" x2="228.90" y2="652.50" stroke="#1a1a1a" stroke-width="1.2"/>
<text transform="translate(228.90 659.20) scale(1 1.15)" font-size="7.9" text-anchor="middle" fill="#1a1a1a" stroke="#1a1a1a" stroke-width="0.3">30</text>
<text transform="translate(141.95 668.00) scale(1 1.07)" font-size="9.1" text-anchor="middle" fill="#111" font-weight="bold">Days (adult life)</text>
<text x="24.50" y="563.95" font-size="9.95" stroke="#111" stroke-width="0.3" text-anchor="middle" fill="#111" transform="rotate(-90 24.50 563.95)">Proportion of Worms Surviving</text>
<rect x="44.40" y="461.30" width="8.00" height="9.00" fill="#fff" stroke="#a8a8a8" stroke-width="0.6"/>
<line x1="44.60" y1="465.70" x2="52.20" y2="465.70" stroke="#e3332b" stroke-width="1.4"/>
<text x="53.30" y="465.30" font-size="5.05" text-anchor="start" fill="#505050">gas1 (n=59,</text>
<text x="53.30" y="470.20" font-size="5.05" text-anchor="start" fill="#505050">p&lt;0.001 vs N2)</text>
<rect x="89.60" y="461.30" width="8.00" height="9.00" fill="#fff" stroke="#a8a8a8" stroke-width="0.6"/>
<line x1="89.80" y1="465.70" x2="97.40" y2="465.70" stroke="#9a62b0" stroke-width="1.4"/>
<text x="98.50" y="465.30" font-size="5.05" text-anchor="start" fill="#505050">gas1 + Rosi dev (n=58,</text>
<text x="98.50" y="470.20" font-size="5.05" text-anchor="start" fill="#505050">p=NS vs cntrl)</text>
<rect x="150.70" y="461.30" width="8.00" height="9.00" fill="#fff" stroke="#a8a8a8" stroke-width="0.6"/>
<line x1="150.90" y1="465.70" x2="158.50" y2="465.70" stroke="#5c2c80" stroke-width="1.4"/>
<text x="159.60" y="465.30" font-size="5.05" text-anchor="start" fill="#505050">gas1 + Rosi ya (n=57,</text>
<text x="159.60" y="470.20" font-size="5.05" text-anchor="start" fill="#505050">p&lt;0.0042 vs cntrl)</text>
<rect x="209.70" y="461.30" width="8.00" height="9.00" fill="#fff" stroke="#a8a8a8" stroke-width="0.6"/>
<line x1="209.90" y1="465.70" x2="217.50" y2="465.70" stroke="#45458f" stroke-width="1.4"/>
<text x="218.60" y="467.60" font-size="5.05" text-anchor="start" fill="#505050">N2 (n=60)</text>
<text x="15.10" y="668.90" font-size="10.6" text-anchor="start" fill="#111" font-weight="bold">E</text>
<rect x="300.50" y="477.60" width="192.10" height="172.40" fill="#fff" stroke="none" stroke-width="1"/>
<line x1="308.90" y1="477.60" x2="308.90" y2="650.00" stroke="#f5f5f5" stroke-width="0.8"/>
<line x1="337.95" y1="477.60" x2="337.95" y2="650.00" stroke="#f5f5f5" stroke-width="0.8"/>
<line x1="367.00" y1="477.60" x2="367.00" y2="650.00" stroke="#f5f5f5" stroke-width="0.8"/>
<line x1="396.05" y1="477.60" x2="396.05" y2="650.00" stroke="#f5f5f5" stroke-width="0.8"/>
<line x1="425.10" y1="477.60" x2="425.10" y2="650.00" stroke="#f5f5f5" stroke-width="0.8"/>
<line x1="454.15" y1="477.60" x2="454.15" y2="650.00" stroke="#f5f5f5" stroke-width="0.8"/>
<line x1="483.20" y1="477.60" x2="483.20" y2="650.00" stroke="#f5f5f5" stroke-width="0.8"/>
<line x1="300.50" y1="642.60" x2="492.60" y2="642.60" stroke="#f5f5f5" stroke-width="0.8"/>
<line x1="300.50" y1="622.94" x2="492.60" y2="622.94" stroke="#f5f5f5" stroke-width="0.8"/>
<line x1="300.50" y1="603.27" x2="492.60" y2="603.27" stroke="#f5f5f5" stroke-width="0.8"/>
<line x1="300.50" y1="583.61" x2="492.60" y2="583.61" stroke="#f5f5f5" stroke-width="0.8"/>
<line x1="300.50" y1="563.95" x2="492.60" y2="563.95" stroke="#f5f5f5" stroke-width="0.8"/>
<line x1="300.50" y1="544.29" x2="492.60" y2="544.29" stroke="#f5f5f5" stroke-width="0.8"/>
<line x1="300.50" y1="524.62" x2="492.60" y2="524.62" stroke="#f5f5f5" stroke-width="0.8"/>
<line x1="300.50" y1="504.96" x2="492.60" y2="504.96" stroke="#f5f5f5" stroke-width="0.8"/>
<line x1="300.50" y1="485.30" x2="492.60" y2="485.30" stroke="#f5f5f5" stroke-width="0.8"/>
<rect x="300.50" y="477.60" width="192.10" height="172.40" fill="none" stroke="#8a8a8a" stroke-width="0.9"/>
<line x1="308.90" y1="563.95" x2="483.20" y2="563.95" stroke="#111" stroke-width="1.4"/>
<text transform="translate(310.60 573.45) scale(1 1.12)" font-size="7.65" text-anchor="start" fill="#2a2a2a" stroke="#2a2a2a" stroke-width="0.12">Median Survival</text>
<polyline points="308.90,485.30 337.95,505.59 349.57,515.34 367.00,556.09 378.62,576.53 390.24,595.41 407.67,614.29 419.29,630.02 430.91,640.24 448.34,641.97" fill="none" stroke="#7ecdd2" stroke-width="1.3" stroke-linejoin="round"/>
<line x1="337.95" y1="499.30" x2="337.95" y2="511.88" stroke="#8fd0d4" stroke-width="1.4"/>
<line x1="349.57" y1="505.91" x2="349.57" y2="524.78" stroke="#8fd0d4" stroke-width="1.4"/>
<line x1="367.00" y1="546.65" x2="367.00" y2="565.52" stroke="#8fd0d4" stroke-width="1.4"/>
<line x1="378.62" y1="567.10" x2="378.62" y2="585.97" stroke="#8fd0d4" stroke-width="1.4"/>
<line x1="390.24" y1="587.55" x2="390.24" y2="603.27" stroke="#8fd0d4" stroke-width="1.4"/>
<line x1="407.67" y1="606.42" x2="407.67" y2="622.15" stroke="#8fd0d4" stroke-width="1.4"/>
<line x1="419.29" y1="623.72" x2="419.29" y2="636.31" stroke="#8fd0d4" stroke-width="1.4"/>
<line x1="430.91" y1="637.88" x2="430.91" y2="642.60" stroke="#8fd0d4" stroke-width="1.4"/>
<polyline points="308.90,485.30 337.95,511.57 349.57,527.30 367.00,542.56 378.62,552.78 390.24,563.16 407.67,587.39 419.29,605.32 430.91,623.25 448.34,637.41 459.96,642.60" fill="none" stroke="#2d7d6b" stroke-width="1.3" stroke-linejoin="round"/>
<line x1="337.95" y1="503.70" x2="337.95" y2="519.43" stroke="#3a8577" stroke-width="1.4"/>
<line x1="349.57" y1="517.86" x2="349.57" y2="536.74" stroke="#3a8577" stroke-width="1.4"/>
<line x1="367.00" y1="533.12" x2="367.00" y2="552.00" stroke="#3a8577" stroke-width="1.4"/>
<line x1="378.62" y1="543.34" x2="378.62" y2="562.22" stroke="#3a8577" stroke-width="1.4"/>
<line x1="390.24" y1="553.73" x2="390.24" y2="572.60" stroke="#3a8577" stroke-width="1.4"/>
<line x1="407.67" y1="577.95" x2="407.67" y2="596.83" stroke="#3a8577" stroke-width="1.4"/>
<line x1="419.29" y1="595.88" x2="419.29" y2="614.76" stroke="#3a8577" stroke-width="1.4"/>
<line x1="430.91" y1="615.39" x2="430.91" y2="631.12" stroke="#3a8577" stroke-width="1.4"/>
<line x1="448.34" y1="632.69" x2="448.34" y2="642.13" stroke="#3a8577" stroke-width="1.4"/>
<polyline points="308.90,485.30 337.95,510.47 349.57,536.11 367.00,555.93 378.62,573.39 390.24,578.42 407.67,586.13 419.29,605.32 430.91,615.54 448.34,634.89" fill="none" stroke="#e3332b" stroke-width="1.3" stroke-linejoin="round"/>
<line x1="337.95" y1="502.60" x2="337.95" y2="518.33" stroke="#d8505a" stroke-width="1.4"/>
<line x1="349.57" y1="526.67" x2="349.57" y2="545.55" stroke="#d8505a" stroke-width="1.4"/>
<line x1="367.00" y1="546.49" x2="367.00" y2="565.37" stroke="#d8505a" stroke-width="1.4"/>
<line x1="378.62" y1="565.52" x2="378.62" y2="581.25" stroke="#d8505a" stroke-width="1.4"/>
<line x1="390.24" y1="570.56" x2="390.24" y2="586.29" stroke="#d8505a" stroke-width="1.4"/>
<line x1="407.67" y1="578.26" x2="407.67" y2="593.99" stroke="#d8505a" stroke-width="1.4"/>
<line x1="419.29" y1="597.45" x2="419.29" y2="613.18" stroke="#d8505a" stroke-width="1.4"/>
<line x1="430.91" y1="609.25" x2="430.91" y2="621.84" stroke="#d8505a" stroke-width="1.4"/>
<line x1="448.34" y1="631.75" x2="448.34" y2="638.04" stroke="#d8505a" stroke-width="1.4"/>
<polyline points="308.90,485.30 349.57,487.82 367.00,492.85 378.62,494.74 390.24,498.20 407.67,518.33 419.29,551.37 430.91,595.10 448.34,616.96 459.96,636.31 471.58,642.60" fill="none" stroke="#45458f" stroke-width="1.3" stroke-linejoin="round"/>
<line x1="349.57" y1="484.67" x2="349.57" y2="490.96" stroke="#5a5a95" stroke-width="1.4"/>
<line x1="367.00" y1="488.13" x2="367.00" y2="497.57" stroke="#5a5a95" stroke-width="1.4"/>
<line x1="378.62" y1="489.23" x2="378.62" y2="500.24" stroke="#5a5a95" stroke-width="1.4"/>
<line x1="390.24" y1="492.69" x2="390.24" y2="503.70" stroke="#5a5a95" stroke-width="1.4"/>
<line x1="407.67" y1="510.47" x2="407.67" y2="526.20" stroke="#5a5a95" stroke-width="1.4"/>
<line x1="419.29" y1="541.93" x2="419.29" y2="560.80" stroke="#5a5a95" stroke-width="1.4"/>
<line x1="430.91" y1="585.66" x2="430.91" y2="604.53" stroke="#5a5a95" stroke-width="1.4"/>
<line x1="448.34" y1="609.10" x2="448.34" y2="624.83" stroke="#5a5a95" stroke-width="1.4"/>
<line x1="459.96" y1="631.59" x2="459.96" y2="641.03" stroke="#5a5a95" stroke-width="1.4"/>
<line x1="297.30" y1="642.60" x2="300.50" y2="642.60" stroke="#1a1a1a" stroke-width="1.2"/>
<text transform="translate(296.50 645.50) scale(1 1.2)" font-size="7.65" text-anchor="end" fill="#1a1a1a" stroke="#1a1a1a" stroke-width="0.3">0.00</text>
<line x1="297.30" y1="603.27" x2="300.50" y2="603.27" stroke="#1a1a1a" stroke-width="1.2"/>
<text transform="translate(296.50 606.17) scale(1 1.2)" font-size="7.65" text-anchor="end" fill="#1a1a1a" stroke="#1a1a1a" stroke-width="0.3">0.25</text>
<line x1="297.30" y1="563.95" x2="300.50" y2="563.95" stroke="#1a1a1a" stroke-width="1.2"/>
<text transform="translate(296.50 566.85) scale(1 1.2)" font-size="7.65" text-anchor="end" fill="#1a1a1a" stroke="#1a1a1a" stroke-width="0.3">0.50</text>
<line x1="297.30" y1="524.62" x2="300.50" y2="524.62" stroke="#1a1a1a" stroke-width="1.2"/>
<text transform="translate(296.50 527.52) scale(1 1.2)" font-size="7.65" text-anchor="end" fill="#1a1a1a" stroke="#1a1a1a" stroke-width="0.3">0.75</text>
<line x1="297.30" y1="485.30" x2="300.50" y2="485.30" stroke="#1a1a1a" stroke-width="1.2"/>
<text transform="translate(296.50 488.20) scale(1 1.2)" font-size="7.65" text-anchor="end" fill="#1a1a1a" stroke="#1a1a1a" stroke-width="0.3">1.00</text>
<line x1="308.90" y1="650.00" x2="308.90" y2="652.50" stroke="#1a1a1a" stroke-width="1.2"/>
<text transform="translate(308.90 659.20) scale(1 1.15)" font-size="7.9" text-anchor="middle" fill="#1a1a1a" stroke="#1a1a1a" stroke-width="0.3">0</text>
<line x1="367.00" y1="650.00" x2="367.00" y2="652.50" stroke="#1a1a1a" stroke-width="1.2"/>
<text transform="translate(367.00 659.20) scale(1 1.15)" font-size="7.9" text-anchor="middle" fill="#1a1a1a" stroke="#1a1a1a" stroke-width="0.3">10</text>
<line x1="425.10" y1="650.00" x2="425.10" y2="652.50" stroke="#1a1a1a" stroke-width="1.2"/>
<text transform="translate(425.10 659.20) scale(1 1.15)" font-size="7.9" text-anchor="middle" fill="#1a1a1a" stroke="#1a1a1a" stroke-width="0.3">20</text>
<line x1="483.20" y1="650.00" x2="483.20" y2="652.50" stroke="#1a1a1a" stroke-width="1.2"/>
<text transform="translate(483.20 659.20) scale(1 1.15)" font-size="7.9" text-anchor="middle" fill="#1a1a1a" stroke="#1a1a1a" stroke-width="0.3">30</text>
<text transform="translate(396.25 668.00) scale(1 1.07)" font-size="9.1" text-anchor="middle" fill="#111" font-weight="bold">Days (adult life)</text>
<text x="279.10" y="563.80" font-size="9.95" stroke="#111" stroke-width="0.3" text-anchor="middle" fill="#111" transform="rotate(-90 279.10 563.80)">Proportion of Worms Surviving</text>
<rect x="297.80" y="461.30" width="8.00" height="9.00" fill="#fff" stroke="#a8a8a8" stroke-width="0.6"/>
<line x1="298.00" y1="465.70" x2="305.60" y2="465.70" stroke="#e3332b" stroke-width="1.4"/>
<text x="306.70" y="465.30" font-size="5.05" text-anchor="start" fill="#505050">gas1 (n=59,</text>
<text x="306.70" y="470.20" font-size="5.05" text-anchor="start" fill="#505050">p&lt;0.001 vs N2)</text>
<rect x="341.30" y="461.30" width="8.00" height="9.00" fill="#fff" stroke="#a8a8a8" stroke-width="0.6"/>
<line x1="341.50" y1="465.70" x2="349.10" y2="465.70" stroke="#7ecdd2" stroke-width="1.4"/>
<text x="350.20" y="465.30" font-size="5.05" text-anchor="start" fill="#505050">gas1 + Feno dev (n=61,</text>
<text x="350.20" y="470.20" font-size="5.05" text-anchor="start" fill="#505050">p&lt;0.036, worse vs cntrl)</text>
<rect x="405.70" y="461.30" width="8.00" height="9.00" fill="#fff" stroke="#a8a8a8" stroke-width="0.6"/>
<line x1="405.90" y1="465.70" x2="413.50" y2="465.70" stroke="#2d7d6b" stroke-width="1.4"/>
<text x="414.60" y="465.30" font-size="5.05" text-anchor="start" fill="#505050">gas1 + Feno ya (n=57,</text>
<text x="414.60" y="470.20" font-size="5.05" text-anchor="start" fill="#505050">p=NS vs cntrl)</text>
<rect x="465.70" y="461.30" width="8.00" height="9.00" fill="#fff" stroke="#a8a8a8" stroke-width="0.6"/>
<line x1="465.90" y1="465.70" x2="473.50" y2="465.70" stroke="#45458f" stroke-width="1.4"/>
<text x="474.60" y="467.60" font-size="5.05" text-anchor="start" fill="#505050">N2 (n=60)</text>
<text x="265.60" y="668.90" font-size="10.6" text-anchor="start" fill="#111" font-weight="bold">F</text>
</svg>
</body></html>
